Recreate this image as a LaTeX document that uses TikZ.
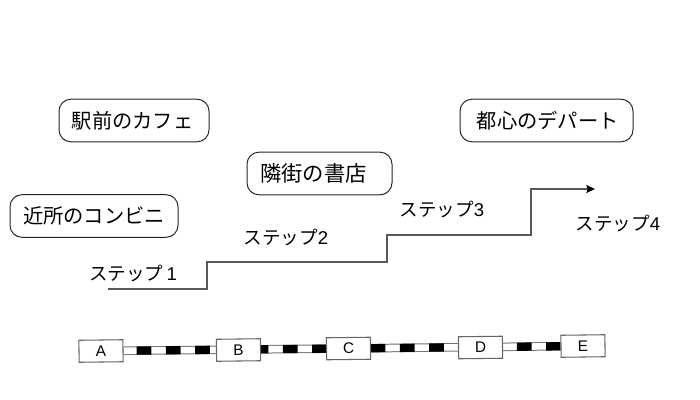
\documentclass[tikz,border=0pt]{standalone}
\usepackage{fontspec}
\setmainfont{Noto Sans CJK JP}
\newfontfamily\latinfont{Liberation Sans}
\usetikzlibrary{backgrounds, arrows.meta}

\begin{document}
\begin{tikzpicture}[x=0.75pt, y=-0.75pt,
   shop/.style={rectangle, rounded corners=9pt, draw=black!85, line width=0.75pt, fill=white,
      minimum width=#1*0.75pt, minimum height=32pt, inner sep=0pt, font=\fontsize{15.2pt}{16pt}\selectfont},
   station/.style={rectangle, draw=black!60, line width=0.8pt, fill=white, rotate=0.7,
      minimum width=33pt, minimum height=16.5pt, inner sep=0pt, font=\latinfont\fontsize{11.5pt}{12pt}\selectfont},
   steplabel/.style={inner sep=0pt, font=\fontsize{13.9pt}{14pt}\selectfont},
   stair/.style={draw=black!65, line width=1.1pt},
   railbase/.style={draw=black!55, line width=6.4pt},
   railwhite/.style={draw=white, line width=4.9pt},
   raildash/.style={draw=black, line width=6.2pt, dash pattern=on 10.97pt off 10.97pt, dash phase=12.1pt}]
\useasboundingbox (0,0) rectangle (700,400);

\node[shop=150] (cafe) at (134, 120.5) {\hspace{-2pt}駅前のカフェ};
\node[shop=145] (book) at (319.5, 173.5) {\hspace{-9pt}\fontsize{16pt}{16pt}\selectfont 隣街の書店};
\node[shop=168] (conv) at (94, 216) {近所のコンビニ};
\node[shop=173] (dept) at (546.5, 120.5) {\hspace{2pt}都心のデパート};

\node[steplabel] (s1) at (133, 273) {ステップ\hspace{2.5pt}{\latinfont 1}};
\node[steplabel] (s2) at (286, 237) {ステップ{\latinfont 2}};
\node[steplabel] (s3) at (442, 209) {ステップ{\latinfont 3}};
\node[steplabel] (s4) at (618, 223) {ステップ{\latinfont 4}};

\coordinate (start) at (108, 289);
\coordinate (stop) at (595, 189);

\node[station] (a) at (101, 351) {A};
\node[station] (b) at (238.5, 350) {B};
\node[station] (c) at (348.5, 348.5) {C};
\node[station] (d) at (480.5, 347.5) {D};
\node[station] (e) at (583, 346) {E};

\draw[stair, -{Stealth[length=6.5pt, width=6pt, inset=1pt, black]}] (start) -- (207, 289) -- (207, 262) -- (387, 262) -- (387, 235)
   -- (531, 235) -- (531, 189) -- (stop);

\begin{pgfonlayer}{background}
\path[railbase] (a) -- (e);
\path[railwhite] (a) -- (e);
\path[raildash] (a.east) -- (e.west);
\end{pgfonlayer}

\end{tikzpicture}
\end{document}
